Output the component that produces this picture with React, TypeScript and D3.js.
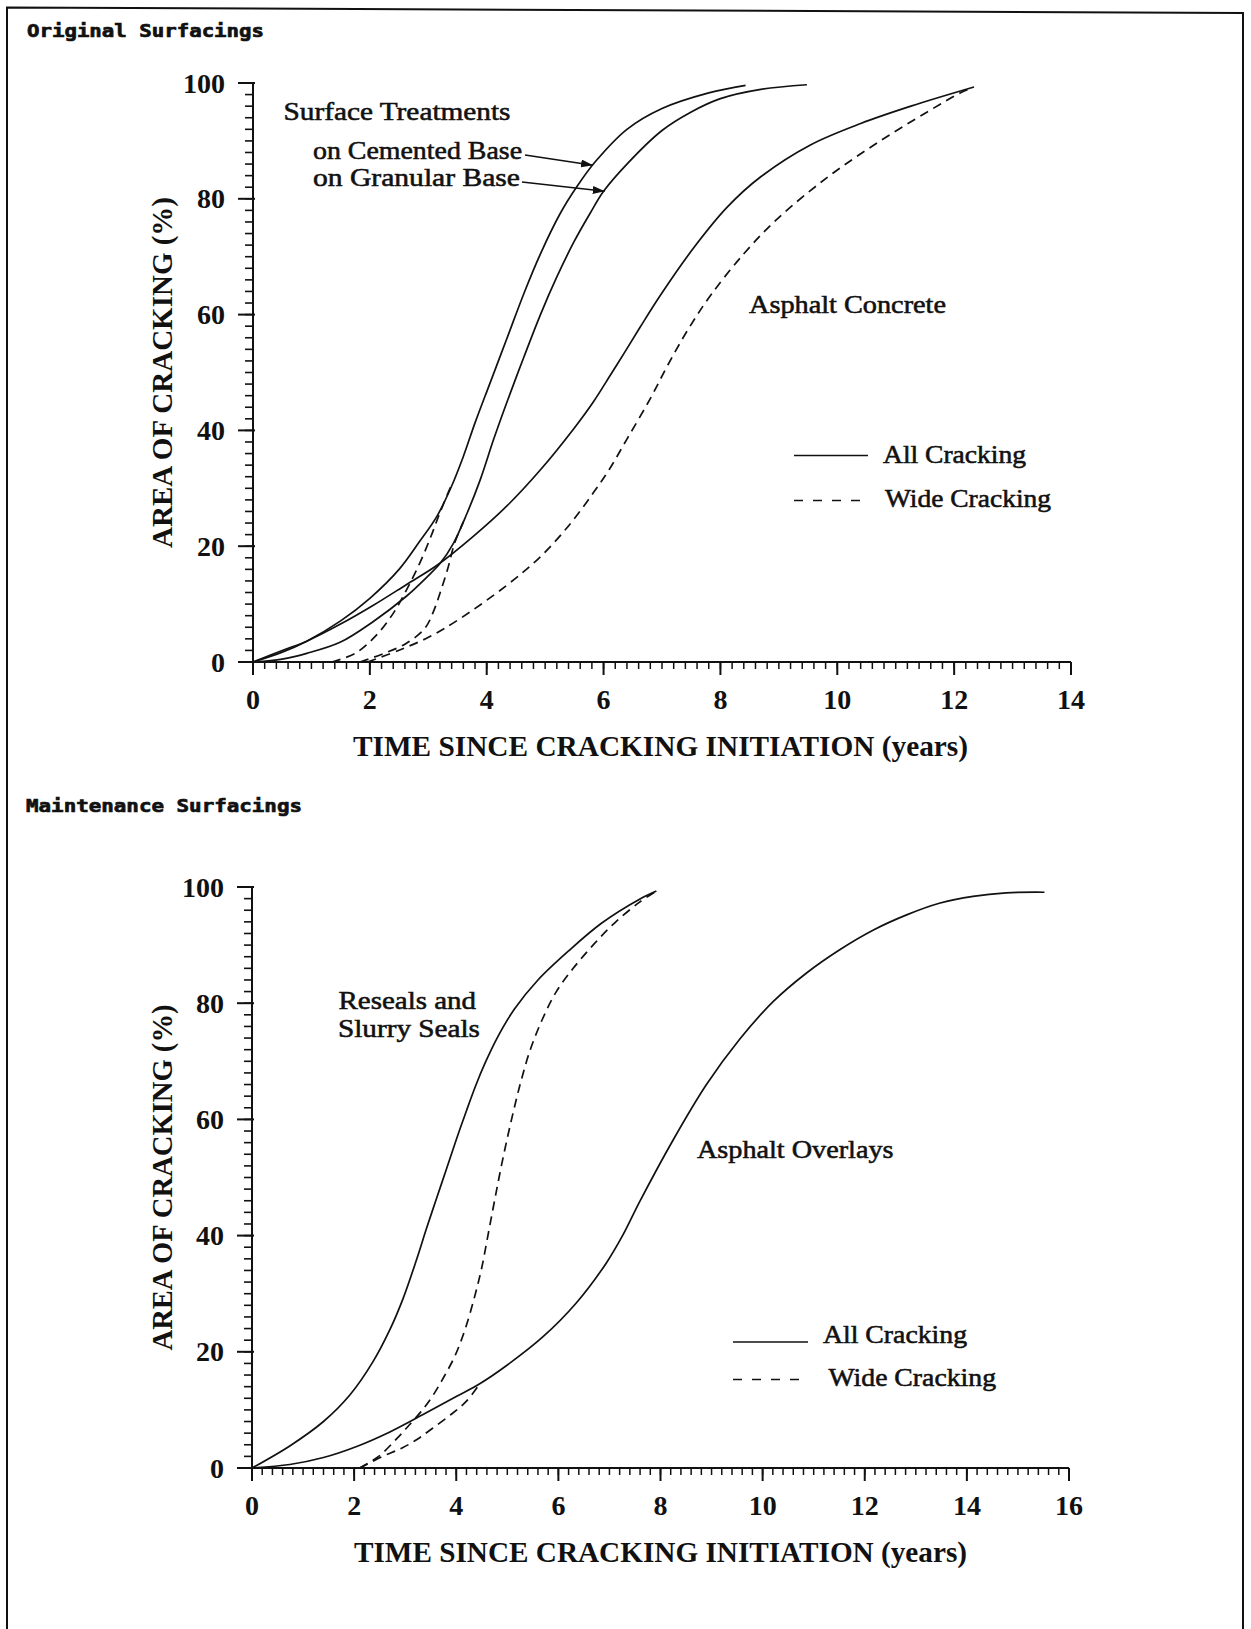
import React from 'react';
import * as d3 from 'd3';

type Pt = [number, number];

// ---- Original surfacings: time since cracking initiation (years) vs area of cracking (%)
const cementedAll: Pt[] = [
  [0, 0], [0.5, 1.7], [0.92, 3.6], [1.5, 7.1], [2.0, 11], [2.5, 16], [2.85, 20.8], [3.15, 25.2],
  [3.4, 30.4], [3.6, 35.5], [3.8, 41.3], [4.05, 48], [4.35, 56], [4.65, 64], [4.92, 70.5],
  [5.26, 77.5], [5.55, 82.2], [5.85, 86.3], [6.4, 92], [7.0, 95.6], [7.8, 98.3], [8.43, 99.6],
];
const cementedWide: Pt[] = [
  [1.35, 0], [1.75, 1.5], [2.1, 4.5], [2.4, 8.4], [2.63, 12.5], [2.86, 17.2], [3.05, 21.8],
  [3.2, 25.8], [3.38, 30.2],
];
const granularAll: Pt[] = [
  [0, 0], [0.5, 0.5], [0.92, 1.5], [1.49, 3.4], [2.06, 7.0], [2.63, 11.4], [2.98, 14.7],
  [3.2, 17], [3.43, 20.5], [3.66, 25.6], [3.89, 31.5], [4.12, 38.5], [4.35, 45], [4.63, 52.5],
  [4.92, 60], [5.2, 66.5], [5.49, 72.5], [5.77, 77.5], [6.0, 81.3], [6.4, 86], [7.0, 91.8],
  [7.5, 95], [8.0, 97.3], [8.69, 98.9], [9.48, 99.7],
];
const granularWide: Pt[] = [
  [1.83, 0], [2.22, 1.4], [2.62, 3.2], [2.94, 5.8], [3.1, 9], [3.22, 12.5], [3.33, 16],
  [3.45, 20.5], [3.6, 24.2],
];
const asphaltConcreteAll: Pt[] = [
  [0, 0], [0.5, 2], [0.92, 3.6], [1.49, 6.5], [2.06, 9.8], [2.63, 13.4], [3.15, 16.7],
  [3.77, 21.7], [4.35, 27], [4.92, 33.2], [5.49, 40.3], [5.83, 45], [6.12, 49.6],
  [6.35, 53.3], [6.63, 57.9], [6.97, 63.3], [7.54, 71.5], [8.12, 78.6], [8.69, 83.8], [9.54, 89.3],
  [10.4, 93], [11.26, 96], [12.34, 99.3],
];
const asphaltConcreteWide: Pt[] = [
  [1.96, 0], [2.49, 2.0], [3.01, 4.3], [3.53, 7.4], [4.35, 13.3], [4.9, 18], [5.4, 23.5],
  [5.83, 29.3], [6.1, 33.3], [6.4, 38.5], [6.8, 45.5], [7.1, 51.3], [7.45, 57.5], [7.83, 63.3],
  [8.4, 70.5], [8.97, 76.5], [9.83, 83.7], [10.69, 89.7], [11.54, 95], [12.11, 98.3], [12.3, 99.1],
];

// ---- Maintenance surfacings
const resealsAll: Pt[] = [
  [0, 0], [0.74, 3.8], [1.4, 8.0], [1.92, 12.6], [2.37, 18.3], [2.7, 23.8], [2.96, 29.2],
  [3.22, 35.8], [3.42, 41.3], [3.61, 46.3], [3.81, 51.5], [4.0, 56.5], [4.2, 61.5], [4.38, 65.8],
  [4.57, 69.8], [4.8, 74], [5.14, 79], [5.6, 84], [6.2, 89], [6.85, 93.8], [7.59, 97.9],
  [7.92, 99.3],
];
const resealsWide: Pt[] = [
  [2.11, 0], [2.48, 2.0], [2.83, 5.0], [3.08, 7.4], [3.31, 9.7], [3.53, 12.3], [3.76, 15.7],
  [3.98, 19.4], [4.17, 23.8], [4.36, 29.5], [4.5, 34.5], [4.62, 40], [4.75, 46], [4.9, 52.7],
  [5.07, 59.5], [5.25, 66], [5.45, 72], [5.7, 77.5], [5.96, 82], [6.29, 86], [6.7, 90.2],
  [7.1, 93.8], [7.59, 97.4], [7.9, 99.2],
];
const overlaysAll: Pt[] = [
  [0, 0], [0.74, 0.6], [1.4, 1.8], [2.05, 3.7], [2.7, 6.2], [3.35, 9.2], [4.0, 12.3],
  [4.46, 14.5], [4.98, 17.6], [5.7, 22.6], [6.35, 28.4], [6.94, 35.3], [7.27, 40.2],
  [7.59, 45.8], [8.25, 56.5], [8.9, 66], [9.55, 73.8], [10.21, 80.3], [10.86, 85.2],
  [11.51, 89.2], [12.17, 92.6], [12.82, 95.2], [13.46, 97.2], [14.12, 98.4], [14.77, 99],
  [15.52, 99.1],
];
const overlaysWide: Pt[] = [
  [2.11, 0], [2.56, 2.0], [2.93, 3.4], [3.23, 4.9], [3.53, 6.8], [3.91, 9.3], [4.2, 11.5],
  [4.46, 14.5],
];

// ---- Axis tick values
const yMajorTicks = [0, 20, 40, 60, 80, 100];
const xMajorTopTicks = [0, 2, 4, 6, 8, 10, 12, 14];
const xMajorBottomTicks = [0, 2, 4, 6, 8, 10, 12, 14, 16];

const SERIF = '"Liberation Serif", "Times New Roman", Times, serif';
const MONO = '"DejaVu Sans Mono", "Liberation Mono", monospace';

type Series = { data: Pt[]; dashed: boolean };

type PanelProps = {
  xMax: number;
  xPx: [number, number];
  yPx: [number, number];
  xTicks: number[];
  series: Series[];
  titleLen: number;
  yTitleLen: number;
  children?: (x: d3.ScaleLinear<number, number>, y: d3.ScaleLinear<number, number>) => React.ReactNode;
};

function Panel({ xMax, xPx, yPx, xTicks, series, titleLen, yTitleLen, children }: PanelProps) {
  const x = d3.scaleLinear().domain([0, xMax]).range(xPx);
  const y = d3.scaleLinear().domain([0, 100]).range(yPx);
  const line = d3
    .line<Pt>()
    .x((d) => x(d[0]))
    .y((d) => y(d[1]))
    .curve(d3.curveCatmullRom.alpha(0.5));

  const xMinor = d3.range(0, xMax + 0.001, 0.2).map((v) => Math.round(v * 10) / 10);
  const yMinor = d3.range(0, 100.001, 2);
  const y0 = y(0);
  const x0 = x(0);

  return (
    <g>
      {/* curves */}
      {series.map((s, i) => (
        <path
          key={i}
          d={line(s.data) || ''}
          fill="none"
          stroke="#111"
          strokeWidth={1.7}
          strokeDasharray={s.dashed ? '9 6' : undefined}
        />
      ))}

      {/* y axis */}
      <line x1={x0} x2={x0} y1={y(0)} y2={y(100)} stroke="#111" strokeWidth={2} />
      {yMinor.map((v) => (
        <line key={'ym' + v} x1={x0 - 8} x2={x0} y1={y(v)} y2={y(v)} stroke="#111" strokeWidth={1.6} />
      ))}
      {yMajorTicks.map((v) => (
        <g key={'yM' + v}>
          <line x1={x0 - 15} x2={x0 + 2} y1={y(v)} y2={y(v)} stroke="#111" strokeWidth={2} />
          <text
            x={x0 - 28}
            y={y(v) + 9.5}
            textAnchor="end"
            fontFamily={SERIF}
            fontWeight="bold"
            fontSize={28}
            fill="#111"
          >
            {v}
          </text>
        </g>
      ))}

      {/* x axis */}
      <line x1={x(0) - 15} x2={x(xMax)} y1={y0} y2={y0} stroke="#111" strokeWidth={2} />
      {xMinor.map((v) => (
        <line key={'xm' + v} x1={x(v)} x2={x(v)} y1={y0} y2={y0 + 7} stroke="#111" strokeWidth={1.5} />
      ))}
      {xTicks.map((v) => (
        <g key={'xM' + v}>
          <line x1={x(v)} x2={x(v)} y1={y0} y2={y0 + 13} stroke="#111" strokeWidth={2} />
          <text
            x={x(v)}
            y={y0 + 46.5}
            textAnchor="middle"
            fontFamily={SERIF}
            fontWeight="bold"
            fontSize={28}
            fill="#111"
          >
            {v}
          </text>
        </g>
      ))}

      {/* axis titles */}
      <text
        x={660.5}
        y={y0 + 93.7}
        textAnchor="middle"
        fontFamily={SERIF}
        fontWeight="bold"
        fontSize={29}
        fill="#111"
        textLength={titleLen}
        lengthAdjust="spacingAndGlyphs"
      >
        TIME SINCE CRACKING INITIATION (years)
      </text>
      <text
        transform={`translate(172,${(y(0) + y(100)) / 2}) rotate(-90)`}
        textAnchor="middle"
        fontFamily={SERIF}
        fontWeight="bold"
        fontSize={29}
        fill="#111"
        textLength={yTitleLen}
        lengthAdjust="spacingAndGlyphs"
      >
        AREA OF CRACKING (%)
      </text>

      {children ? children(x, y) : null}
    </g>
  );
}

function Label({ x, y, len, children }: { x: number; y: number; len: number; children: React.ReactNode }) {
  return (
    <text
      x={x}
      y={y}
      fontFamily={SERIF}
      fontSize={25}
      fill="#111"
      stroke="#111"
      strokeWidth={0.55}
      textLength={len}
      lengthAdjust="spacingAndGlyphs"
    >
      {children}
    </text>
  );
}

function Legend({ lx, yAll, yWide, tAll, tWide, lenAll, lenWide, lineLen }: {
  lx: number; yAll: number; yWide: number; tAll: [number, number]; tWide: [number, number];
  lenAll: number; lenWide: number; lineLen: number;
}) {
  return (
    <g>
      <line x1={lx} x2={lx + lineLen} y1={yAll} y2={yAll} stroke="#111" strokeWidth={1.7} />
      <Label x={tAll[0]} y={tAll[1]} len={lenAll}>All Cracking</Label>
      <line x1={lx} x2={lx + lineLen} y1={yWide} y2={yWide} stroke="#111" strokeWidth={1.7} strokeDasharray="9 10" />
      <Label x={tWide[0]} y={tWide[1]} len={lenWide}>Wide Cracking</Label>
    </g>
  );
}

export default function App() {
  const topSeries: Series[] = [
    { data: cementedAll, dashed: false },
    { data: granularAll, dashed: false },
    { data: asphaltConcreteAll, dashed: false },
    { data: cementedWide, dashed: true },
    { data: granularWide, dashed: true },
    { data: asphaltConcreteWide, dashed: true },
  ];
  const bottomSeries: Series[] = [
    { data: resealsAll, dashed: false },
    { data: overlaysAll, dashed: false },
    { data: resealsWide, dashed: true },
    { data: overlaysWide, dashed: true },
  ];

  return (
    <svg
      width={1251}
      height={1629}
      viewBox="0 0 1251 1629"
      style={{ position: 'absolute', left: 0, top: 0, background: '#fff' }}
    >
      <defs>
        <marker id="arrowHead" viewBox="0 0 12 8" refX={12} refY={4} markerWidth={12} markerHeight={8} markerUnits="userSpaceOnUse" orient="auto">
          <path d="M0,0 L12,4 L0,8 Z" fill="#111" />
        </marker>
      </defs>
      <rect x={0} y={0} width={1251} height={1629} fill="#fff" />

      {/* page frame */}
      <path d="M7,1640 L7,7.5 L1243,13 L1243,1640" fill="none" stroke="#111" strokeWidth={2} />

      <text x={27} y={37} fontFamily={MONO} fontWeight="bold" fontSize={18} fill="#111" stroke="#111" strokeWidth={0.7} textLength={237} lengthAdjust="spacingAndGlyphs">
        Original Surfacings
      </text>
      <text x={26} y={812} fontFamily={MONO} fontWeight="bold" fontSize={18} fill="#111" stroke="#111" strokeWidth={0.7} textLength={276} lengthAdjust="spacingAndGlyphs">
        Maintenance Surfacings
      </text>

      <Panel xMax={14} xPx={[253, 1071]} yPx={[662, 83]} xTicks={xMajorTopTicks} series={topSeries} titleLen={615} yTitleLen={351}>
        {(x, y) => (
          <g>
            <Label x={283.5} y={120} len={227}>Surface Treatments</Label>
            <Label x={313} y={159} len={209}>on Cemented Base</Label>
            <Label x={313} y={186} len={207}>on Granular Base</Label>
            <line x1={525} y1={155} x2={x(5.82)} y2={y(85.8)} stroke="#111" strokeWidth={1.6} markerEnd="url(#arrowHead)" />
            <line x1={522} y1={182} x2={x(6.02)} y2={y(81.3)} stroke="#111" strokeWidth={1.6} markerEnd="url(#arrowHead)" />
            <Label x={749} y={313} len={197}>Asphalt Concrete</Label>
            <Legend lx={794} yAll={455.5} yWide={500.5} tAll={[883, 463]} tWide={[885, 506.5]} lenAll={143} lenWide={166} lineLen={74} />
          </g>
        )}
      </Panel>

      <Panel xMax={16} xPx={[252, 1069]} yPx={[1468, 887]} xTicks={xMajorBottomTicks} series={bottomSeries} titleLen={613} yTitleLen={346}>
        {() => (
          <g>
            <Label x={338.5} y={1009} len={137.5}>Reseals and</Label>
            <Label x={338} y={1037} len={142}>Slurry Seals</Label>
            <Label x={697} y={1158} len={196.5}>Asphalt Overlays</Label>
            <Legend lx={733} yAll={1342} yWide={1379.5} tAll={[823, 1343]} tWide={[828.5, 1385.5]} lenAll={144} lenWide={167.5} lineLen={75} />
          </g>
        )}
      </Panel>
    </svg>
  );
}
